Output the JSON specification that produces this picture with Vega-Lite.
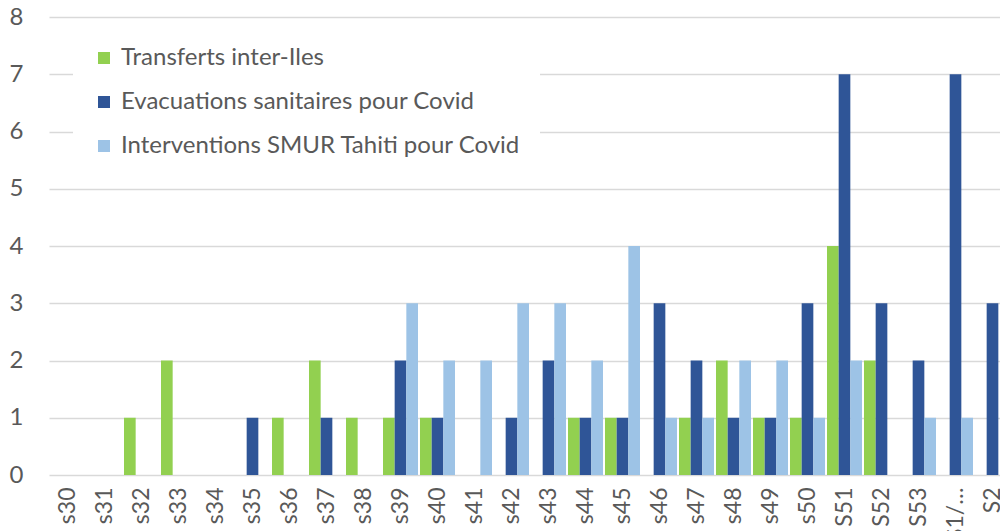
{
  "$schema": "https://vega.github.io/schema/vega-lite/v6.json",
  "autosize": {"type": "none"},
  "width": 962,
  "height": 458,
  "padding": {"left": 49, "top": 17, "right": 0, "bottom": 56},
  "background": "white",
  "config": {
    "font": "Lato",
    "view": {"stroke": null}
  },
  "data": {
    "values": [
      {"semaine": "s32", "serie": "Transferts inter-Iles", "valeur": 1},
      {"semaine": "s33", "serie": "Transferts inter-Iles", "valeur": 2},
      {"semaine": "s36", "serie": "Transferts inter-Iles", "valeur": 1},
      {"semaine": "s37", "serie": "Transferts inter-Iles", "valeur": 2},
      {"semaine": "s38", "serie": "Transferts inter-Iles", "valeur": 1},
      {"semaine": "s39", "serie": "Transferts inter-Iles", "valeur": 1},
      {"semaine": "s40", "serie": "Transferts inter-Iles", "valeur": 1},
      {"semaine": "s44", "serie": "Transferts inter-Iles", "valeur": 1},
      {"semaine": "s45", "serie": "Transferts inter-Iles", "valeur": 1},
      {"semaine": "s47", "serie": "Transferts inter-Iles", "valeur": 1},
      {"semaine": "s48", "serie": "Transferts inter-Iles", "valeur": 2},
      {"semaine": "s49", "serie": "Transferts inter-Iles", "valeur": 1},
      {"semaine": "s50", "serie": "Transferts inter-Iles", "valeur": 1},
      {"semaine": "S51", "serie": "Transferts inter-Iles", "valeur": 4},
      {"semaine": "S52", "serie": "Transferts inter-Iles", "valeur": 2},
      {"semaine": "s35", "serie": "Evacuations sanitaires pour Covid", "valeur": 1},
      {"semaine": "s37", "serie": "Evacuations sanitaires pour Covid", "valeur": 1},
      {"semaine": "s39", "serie": "Evacuations sanitaires pour Covid", "valeur": 2},
      {"semaine": "s40", "serie": "Evacuations sanitaires pour Covid", "valeur": 1},
      {"semaine": "s42", "serie": "Evacuations sanitaires pour Covid", "valeur": 1},
      {"semaine": "s43", "serie": "Evacuations sanitaires pour Covid", "valeur": 2},
      {"semaine": "s44", "serie": "Evacuations sanitaires pour Covid", "valeur": 1},
      {"semaine": "s45", "serie": "Evacuations sanitaires pour Covid", "valeur": 1},
      {"semaine": "s46", "serie": "Evacuations sanitaires pour Covid", "valeur": 3},
      {"semaine": "s47", "serie": "Evacuations sanitaires pour Covid", "valeur": 2},
      {"semaine": "s48", "serie": "Evacuations sanitaires pour Covid", "valeur": 1},
      {"semaine": "s49", "serie": "Evacuations sanitaires pour Covid", "valeur": 1},
      {"semaine": "s50", "serie": "Evacuations sanitaires pour Covid", "valeur": 3},
      {"semaine": "S51", "serie": "Evacuations sanitaires pour Covid", "valeur": 7},
      {"semaine": "S52", "serie": "Evacuations sanitaires pour Covid", "valeur": 3},
      {"semaine": "S53", "serie": "Evacuations sanitaires pour Covid", "valeur": 2},
      {"semaine": "S1/…", "serie": "Evacuations sanitaires pour Covid", "valeur": 7},
      {"semaine": "S2", "serie": "Evacuations sanitaires pour Covid", "valeur": 3},
      {"semaine": "s39", "serie": "Interventions SMUR Tahiti pour Covid", "valeur": 3},
      {"semaine": "s40", "serie": "Interventions SMUR Tahiti pour Covid", "valeur": 2},
      {"semaine": "s41", "serie": "Interventions SMUR Tahiti pour Covid", "valeur": 2},
      {"semaine": "s42", "serie": "Interventions SMUR Tahiti pour Covid", "valeur": 3},
      {"semaine": "s43", "serie": "Interventions SMUR Tahiti pour Covid", "valeur": 3},
      {"semaine": "s44", "serie": "Interventions SMUR Tahiti pour Covid", "valeur": 2},
      {"semaine": "s45", "serie": "Interventions SMUR Tahiti pour Covid", "valeur": 4},
      {"semaine": "s46", "serie": "Interventions SMUR Tahiti pour Covid", "valeur": 1},
      {"semaine": "s47", "serie": "Interventions SMUR Tahiti pour Covid", "valeur": 1},
      {"semaine": "s48", "serie": "Interventions SMUR Tahiti pour Covid", "valeur": 2},
      {"semaine": "s49", "serie": "Interventions SMUR Tahiti pour Covid", "valeur": 2},
      {"semaine": "s50", "serie": "Interventions SMUR Tahiti pour Covid", "valeur": 1},
      {"semaine": "S51", "serie": "Interventions SMUR Tahiti pour Covid", "valeur": 2},
      {"semaine": "S53", "serie": "Interventions SMUR Tahiti pour Covid", "valeur": 1},
      {"semaine": "S1/…", "serie": "Interventions SMUR Tahiti pour Covid", "valeur": 1}
    ]
  },
  "mark": {"type": "bar"},
  "encoding": {
    "x": {
      "field": "semaine",
      "type": "nominal",
      "scale": {
        "domain": ["s30","s31","s32","s33","s34","s35","s36","s37","s38","s39","s40","s41","s42","s43","s44","s45","s46","s47","s48","s49","s50","S51","S52","S53","S1/…","S2"],
        "paddingInner": 0.054,
        "paddingOuter": 0.027
      },
      "axis": {
        "title": null,
        "labelAngle": -90,
        "labelFontSize": 23,
        "labelColor": "#595959",
        "labelPadding": 12,
        "ticks": false,
        "domain": false,
        "labelAlign": "right",
        "labelBaseline": "middle",
        "labelOverlap": false
      }
    },
    "xOffset": {
      "field": "serie",
      "type": "nominal",
      "scale": {
        "domain": ["Transferts inter-Iles", "Evacuations sanitaires pour Covid", "Interventions SMUR Tahiti pour Covid"],
        "paddingInner": 0,
        "paddingOuter": 0
      }
    },
    "y": {
      "field": "valeur",
      "type": "quantitative",
      "scale": {"domain": [0, 8], "nice": false},
      "axis": {
        "title": null,
        "values": [0,1,2,3,4,5,6,7,8],
        "labelOverlap": false,
        "labelFontSize": 24,
        "labelColor": "#595959",
        "labelPadding": 26,
        "ticks": false,
        "domain": false,
        "gridColor": "#d9d9d9",
        "gridWidth": 1.5
      }
    },
    "color": {
      "field": "serie",
      "type": "nominal",
      "scale": {
        "domain": ["Transferts inter-Iles", "Evacuations sanitaires pour Covid", "Interventions SMUR Tahiti pour Covid"],
        "range": ["#92D050", "#2F5597", "#9DC3E6"]
      },
      "legend": {
        "title": null,
        "orient": "none",
        "legendX": 24,
        "legendY": 10,
        "padding": 19,
        "fillColor": "white",
        "symbolType": "square",
        "symbolSize": 144,
        "symbolStrokeWidth": 0,
        "labelFontSize": 24,
        "labelLimit": 600,
        "labelColor": "#595959",
        "labelOffset": 5,
        "rowPadding": 20
      }
    }
  }
}
